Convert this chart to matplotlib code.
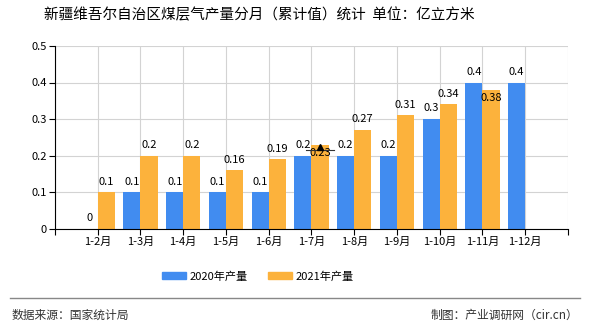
import numpy as np
import matplotlib.pyplot as plt
from matplotlib.lines import Line2D

plt.rcParams['font.family'] = ['Noto Sans CJK SC', 'DejaVu Sans']

# 数据
months = ['1-2月', '1-3月', '1-4月', '1-5月', '1-6月', '1-7月',
          '1-8月', '1-9月', '1-10月', '1-11月', '1-12月']
y2020 = [0, 0.1, 0.1, 0.1, 0.1, 0.2, 0.2, 0.2, 0.3, 0.4, 0.4]
y2021 = [0.1, 0.2, 0.2, 0.16, 0.19, 0.23, 0.27, 0.31, 0.34, 0.38, None]
yticks = [0, 0.1, 0.2, 0.3, 0.4, 0.5]

c2020 = '#418cf0'
c2021 = '#fcb23c'

fig = plt.figure(figsize=(5.9, 3.3), dpi=100)
ax = fig.add_axes([0.0932, 0.306, 0.8695, 0.555])

x = np.arange(len(months))
w = 0.4
ax.bar(x - w / 2, y2020, w, color=c2020, zorder=2)
v21 = [np.nan if v is None else v for v in y2021]
ax.bar(x + w / 2, v21, w, color=c2021, zorder=2)

# 数值标签
for i, v in enumerate(y2020):
    ax.text(x[i] - w / 2, v + 0.016, f'{v:g}', ha='center', va='bottom', fontsize=8)
for i, v in enumerate(y2021):
    if v is None:
        continue
    if months[i] in ('1-7月', '1-11月'):
        # 这两个标签被挤到了柱顶下方
        ax.text(x[i] + w / 2, v - 0.01, f'{v:g}', ha='center', va='top', fontsize=8)
    else:
        ax.text(x[i] + w / 2, v + 0.016, f'{v:g}', ha='center', va='bottom', fontsize=8)

# 1-7月上的小三角标记
i7 = months.index('1-7月')
ax.plot([x[i7] - 0.14, x[i7] + 0.53], [0.216, 0.216], color='#333333', lw=0.8, zorder=3)
ax.plot(x[i7] + 0.21, 0.223, marker='^', color='black', ms=4, zorder=3)

ax.set_xlim(-1, len(months))
ax.set_ylim(0, 0.5)
ax.set_yticks(yticks)
ax.set_yticklabels([f'{t:g}' for t in yticks], fontsize=8)
ax.set_xticks(np.arange(-1, len(months) + 1))
ax.set_xticklabels([''] + months + [''], fontsize=8)
ax.tick_params(axis='x', length=4, pad=2)
ax.tick_params(axis='y', length=4, pad=2)
ax.grid(True, color='#d3d3d3', lw=0.8, zorder=0)
ax.set_axisbelow(True)
for s in ['top', 'right']:
    ax.spines[s].set_visible(False)
ax.spines['left'].set_color('black')
ax.spines['bottom'].set_color('black')

fig.text(0.44, 0.955, '新疆维吾尔自治区煤层气产量分月（累计值）统计  单位：亿立方米',
         ha='center', va='center', fontsize=10.5)

handles = [plt.Rectangle((0, 0), 1, 1, color=c2020), plt.Rectangle((0, 0), 1, 1, color=c2021)]
fig.legend(handles, ['2020年产量', '2021年产量'], loc='center', bbox_to_anchor=(0.437, 0.163),
           ncol=2, frameon=False, fontsize=8, handlelength=2.2, handleheight=0.7,
           columnspacing=1.8, handletextpad=0.3)

fig.add_artist(Line2D([0.017, 0.983], [0.097, 0.097], color='#888888', lw=1))
fig.text(0.02, 0.045, '数据来源：国家统计局', fontsize=8.5, color='#333333', va='center')
fig.text(0.98, 0.045, '制图：产业调研网（cir.cn）', fontsize=8.5, color='#333333',
         va='center', ha='right')

fig.savefig('out.png', dpi=100)
